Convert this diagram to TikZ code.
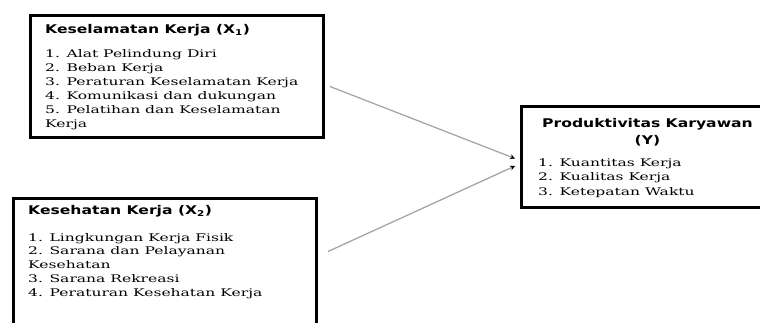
\documentclass[tikz,border=0pt]{standalone}
\usepackage{fontspec}
\usepackage{tikz}
\usetikzlibrary{arrows.meta,positioning,calc}
\newfontfamily\headfont[FakeStretch=1.3]{DejaVu Sans}
\newfontfamily\listfont[FakeStretch=1.48]{DejaVu Serif}

\begin{document}
\begin{tikzpicture}[x=1pt,y=-1pt,
    varbox/.style={draw, line width=3pt, anchor=north west, inner sep=0pt},
    headtxt/.style={font=\headfont\bfseries\fontsize{12}{14}\selectfont, inner sep=0pt},
    listtxt/.style={font=\listfont\fontsize{10.5}{14}\selectfont, align=left, inner sep=0pt, anchor=base west},
    link/.style={draw=gray!70, line width=1.3pt, -{Stealth[black, length=5pt, width=5pt]}}]
    \useasboundingbox (0,0) rectangle (760,322);

    % Boxes
    \node[varbox, minimum width=293pt, minimum height=122pt] (x1) at (29,14) {};
    \node[varbox, minimum width=303pt, minimum height=140pt] (x2) at (12,197) {};
    \node[varbox, minimum width=250pt, minimum height=101pt] (y) at (520,105) {};

    % Keselamatan Kerja (base = last line)
    \node[headtxt, anchor=base west] (x1head) at (45,33.5) {Keselamatan Kerja (X\textsubscript{1})};
    \node[listtxt] (x1list) at (45,127) {1. Alat Pelindung Diri\\
        2. Beban Kerja\\
        3. Peraturan Keselamatan Kerja\\
        4. Komunikasi dan dukungan\\
        5. Pelatihan dan Keselamatan\\
        Kerja};

    % Kesehatan Kerja
    \node[headtxt, anchor=base west] (x2head) at (28,214.5) {Kesehatan Kerja (X\textsubscript{2})};
    \node[listtxt, font=\listfont\fontsize{10.5}{13.7}\selectfont] (x2list) at (28,296) {1. Lingkungan Kerja Fisik\\
        2. Sarana dan Pelayanan\\
        Kesehatan\\
        3. Sarana Rekreasi\\
        4. Peraturan Kesehatan Kerja};

    % Produktivitas Karyawan
    \node[headtxt, anchor=base, align=center] (yhead) at (647.5,144) {Produktivitas Karyawan\\[3pt](Y)};
    \node[listtxt, font=\listfont\fontsize{10.5}{14.7}\selectfont] (ylist) at (538,195.5) {1. Kuantitas Kerja\\
        2. Kualitas Kerja\\
        3. Ketepatan Waktu};

    % Arrows
    \draw[link] ([xshift=5pt,yshift=-10pt]x1.east) -- ([xshift=-5pt,yshift=-1.5pt]y.west);
    \draw[link] ([xshift=10pt,yshift=17pt]x2.east) -- ([xshift=-5pt,yshift=-9pt]y.west);
\end{tikzpicture}
\end{document}
